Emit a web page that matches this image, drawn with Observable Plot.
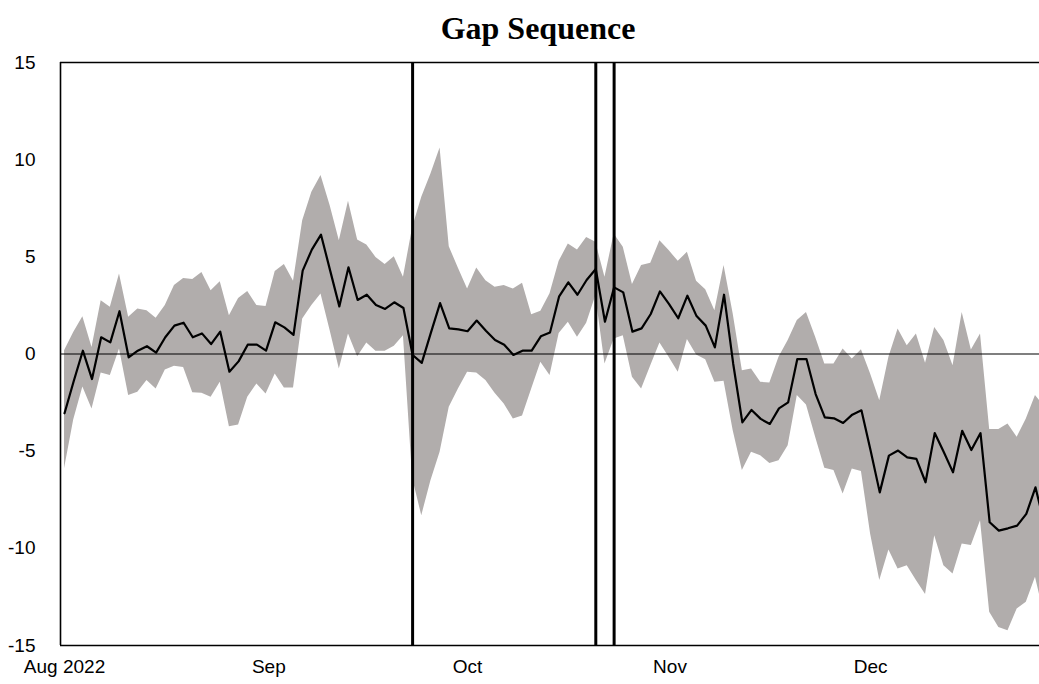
<!DOCTYPE html>
<html><head><meta charset="utf-8">
<script src="https://cdn.jsdelivr.net/npm/d3@7"></script>
<script src="https://cdn.jsdelivr.net/npm/@observablehq/plot@0.6"></script>
<style>
html,body{margin:0;padding:0;background:#fff;overflow:hidden}
</style></head><body><div id="chart"></div>
<script>
const gapMid = [
  -3.05, -1.4, 0.17, -1.29, 0.86, 0.6, 2.2, -0.17, 0.17, 0.4,
  0.07, 0.86, 1.46, 1.61, 0.86, 1.06, 0.51, 1.15, -0.91, -0.38,
  0.48, 0.48, 0.17, 1.63, 1.37, 0.98, 4.29, 5.37, 6.14, 4.29,
  2.45, 4.46, 2.78, 3.05, 2.52, 2.32, 2.66, 2.37, -0.05, -0.46,
  1.1, 2.62, 1.32, 1.27, 1.17, 1.72, 1.2, 0.72, 0.48, -0.05,
  0.17, 0.17, 0.91, 1.11, 2.97, 3.69, 3.05, 3.81, 4.37, 1.66,
  3.43, 3.17, 1.15, 1.32, 2.06, 3.22, 2.57, 1.84, 3.0, 1.95,
  1.46, 0.34, 3.05, -0.5, -3.52, -2.88, -3.34, -3.6, -2.8, -2.49,
  -0.26, -0.26, -2.06, -3.26, -3.31, -3.55, -3.12, -2.9, -4.97, -7.12,
  -5.23, -4.97, -5.32, -5.4, -6.6, -4.07, -5.06, -6.09, -3.95, -4.94,
  -4.07, -8.66, -9.09, -8.97, -8.83, -8.23, -6.86, -8.8
];
const gapUpper = [
  0.17, 1.1, 1.92, 0.34, 2.74, 2.4, 4.12, 1.89, 2.32, 2.23,
  1.84, 2.49, 3.52, 3.89, 3.84, 4.2, 3.26, 3.72, 1.97, 2.86,
  3.21, 2.49, 2.45, 4.24, 4.6, 3.74, 6.86, 8.32, 9.18, 7.63,
  5.83, 7.86, 5.87, 5.61, 4.97, 4.6, 5.0, 3.95, 6.5, 8.06,
  9.26, 10.6, 5.52, 4.41, 3.34, 4.43, 3.77, 3.43, 3.52, 3.34,
  3.64, 2.02, 2.2, 3.1, 4.77, 5.66, 5.35, 6.0, 5.75, 3.95,
  6.17, 5.49, 3.57, 4.55, 4.67, 5.83, 5.32, 4.77, 5.23, 3.75,
  3.3, 2.23, 4.55, 2.06, -0.86, -0.77, -1.46, -1.49, -0.17, 0.69,
  1.72, 2.14, 0.86, -0.51, -0.51, 0.26, -0.26, 0.22, -1.03, -2.4,
  -0.17, 1.29, 0.43, 1.03, -0.48, 1.37, 0.69, -0.6, 2.14, 0.21,
  1.03, -3.89, -3.89, -3.6, -4.29, -3.34, -2.14, -2.7
];
const gapLower = [
  -5.9, -3.4, -1.7, -2.83, -0.98, -1.11, 0.26, -2.14, -1.97, -1.37,
  -1.8, -0.82, -0.63, -0.69, -2.0, -2.02, -2.23, -1.46, -3.74, -3.65,
  -2.23, -1.54, -2.06, -1.03, -1.75, -1.75, 1.8, 2.49, 3.09, 1.2,
  -0.77, 1.03, -0.14, 0.57, 0.14, 0.14, 0.4, 0.94, -6.4, -8.32,
  -6.52, -5.06, -2.74, -1.8, -0.94, -0.98, -1.37, -2.02, -2.57, -3.34,
  -3.19, -1.8, -0.43, -1.1, 1.06, 1.63, 0.86, 1.58, 3.0, -0.51,
  0.77, 0.94, -1.2, -1.8, -0.6, 0.57, -0.17, -0.94, 0.74, -0.05,
  -0.3, -1.46, -1.4, -3.95, -6.0, -5.06, -5.23, -5.63, -5.49, -4.72,
  -2.14, -2.62, -4.29, -5.88, -6.0, -7.2, -5.92, -6.05, -9.26, -11.66,
  -10.09, -11.06, -10.89, -11.66, -12.38, -9.35, -10.89, -11.32, -9.78, -9.86,
  -8.58, -13.29, -14.07, -14.24, -13.12, -12.78, -11.49, -13.5
];
const eventIndex = [38, 58, 60];
const monthTickPos = [0, 22.3, 44.0, 66.1, 88.0];
const monthTickLabels = ["Aug 2022", "Sep", "Oct", "Nov", "Dec"];
const yTicks = [-15, -10, -5, 0, 5, 10, 15];
const titleText = "Gap Sequence";

const rows = gapMid.map((v, i) => ({i, mid: v, lo: gapLower[i], hi: gapUpper[i]}));
const xDomain = [-0.44, 106.44];

const chart = Plot.plot({
  width: 1039,
  height: 684,
  marginLeft: 60,
  marginRight: 0,
  marginTop: 62,
  marginBottom: 39,
  style: {fontFamily: "'Liberation Sans', Arial, sans-serif", fontSize: "19px", background: "#fff", color: "#000", overflow: "visible"},
  x: {domain: xDomain, ticks: monthTickPos, tickFormat: d => monthTickLabels[monthTickPos.indexOf(d)], tickSize: 0, tickPadding: 14, label: null},
  y: {domain: [yTicks[0], yTicks[yTicks.length - 1]], ticks: yTicks, tickFormat: d => String(d), tickSize: 0, tickPadding: 25, label: null},
  marks: [
    Plot.areaY(rows, {x: "i", y1: "lo", y2: "hi", fill: "#b1adac", clip: true}),
    Plot.ruleY([0], {stroke: "#000", strokeWidth: 1.2}),
    Plot.ruleX(eventIndex, {stroke: "#000", strokeWidth: 3}),
    Plot.lineY(rows, {x: "i", y: "mid", stroke: "#000", strokeWidth: 2.2, clip: true}),
    Plot.ruleY([yTicks[0], yTicks[yTicks.length - 1]], {stroke: "#000", strokeWidth: 1.6}),
    Plot.ruleX([xDomain[0]], {stroke: "#000", strokeWidth: 1.6}),
    Plot.text([titleText], {frameAnchor: "top", lineAnchor: "middle", dy: -34, dx: -12, fontSize: 32, fontWeight: "bold", fontFamily: "'Liberation Serif', 'Times New Roman', serif", fill: "#000"})
  ]
});
document.getElementById("chart").appendChild(chart);
</script>
</body></html>
